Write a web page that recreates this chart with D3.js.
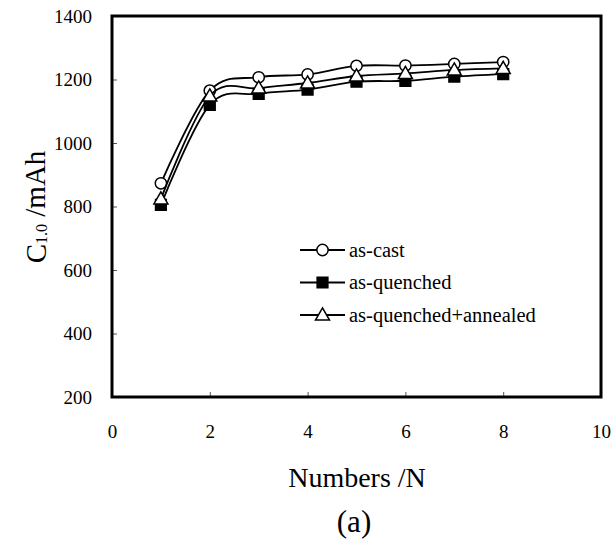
<!DOCTYPE html>
<html><head><meta charset="utf-8">
<script src="https://cdn.jsdelivr.net/npm/d3@7"></script>
<style>body{margin:0;background:#fff}svg{display:block}</style>
</head><body><svg id="c" width="613" height="542"></svg>
<script>
const cycles = [1,2,3,4,5,6,7,8];
const asCast = [873,1165,1207,1216,1243,1244,1249,1255];
const asQuenched = [805,1120,1155,1168,1193,1196,1209,1217];
const asQuenchedAnnealed = [824,1148,1173,1189,1211,1219,1230,1235];
const seriesNames = ["as-cast","as-quenched","as-quenched+annealed"];
const xTicks = [0,2,4,6,8,10];
const yTicks = [200,400,600,800,1000,1200,1400];

const FONT = "'Liberation Serif', Tinos, 'Times New Roman', 'DejaVu Serif', serif";
const svg = d3.select("#c");
const L=112, R=601, T=16, B=397;
const x = d3.scaleLinear().domain([0,10]).range([L,R]);
const y = d3.scaleLinear().domain([200,1400]).range([B,T]);

const gx = svg.append("g").attr("transform",`translate(0,${B})`)
  .call(d3.axisBottom(x).tickValues(xTicks).tickSize(-5).tickPadding(28).tickFormat(d3.format("d")));
gx.select(".domain").remove();
gx.selectAll("line").attr("stroke","#555").attr("stroke-width",1);
gx.selectAll("text").style("font-family",FONT).style("font-size","19px").attr("fill","#000");
const gy = svg.append("g").attr("transform",`translate(${L},0)`)
  .call(d3.axisLeft(y).tickValues(yTicks).tickSize(-5).tickPadding(20).tickFormat(d3.format("d")));
gy.select(".domain").remove();
gy.selectAll("line").attr("stroke","#555").attr("stroke-width",1);
gy.selectAll("text").style("font-family",FONT).style("font-size","19px").attr("fill","#000");

svg.append("rect").attr("x",L).attr("y",T).attr("width",R-L).attr("height",B-T)
  .attr("fill","none").attr("stroke","#000").attr("stroke-width",3);

const line = d3.line().x((d,i)=>x(cycles[i])).y(d=>y(d)).curve(d3.curveCatmullRom.alpha(0));
const data = [asCast, asQuenched, asQuenchedAnnealed];
const sym = [d3.symbolCircle, d3.symbolSquare, d3.symbolTriangle];
const sizes = [100, 115, 85];
const fills = ["#fff","#000","#fff"];
data.forEach((vals,k)=>{
  svg.append("path").attr("d",line(vals)).attr("fill","none").attr("stroke","#000").attr("stroke-width",1.8);
  svg.selectAll(null).data(vals).enter().append("path")
    .attr("transform",(d,i)=>`translate(${x(cycles[i])},${y(d)+(k==2?1:0)})`)
    .attr("d",d3.symbol().type(sym[k]).size(sizes[k]))
    .attr("fill",fills[k]).attr("stroke","#000").attr("stroke-width",1.5);
});

const lg = svg.append("g");
seriesNames.forEach((n,k)=>{
  const yy = 250 + k*32.5;
  lg.append("line").attr("x1",300).attr("x2",345).attr("y1",yy).attr("y2",yy).attr("stroke","#000").attr("stroke-width",1.8);
  lg.append("path").attr("transform",`translate(322.5,${yy+(k==2?1:0)})`)
    .attr("d",d3.symbol().type(sym[k]).size(sizes[k]))
    .attr("fill",fills[k]).attr("stroke","#000").attr("stroke-width",1.5);
  lg.append("text").attr("x",349).attr("y",yy).attr("dy","0.33em")
    .style("font-family",FONT).style("font-size","20.5px").text(n);
});

svg.append("text").attr("x",357).attr("y",487).attr("text-anchor","middle")
  .style("font-family",FONT).style("font-size","28px").text("Numbers /N");
svg.append("text").attr("x",354).attr("y",532).attr("text-anchor","middle")
  .style("font-family",FONT).style("font-size","31px").text("(a)");

const yl = svg.append("text").attr("transform","translate(46,207) rotate(-90)").attr("text-anchor","middle")
  .style("font-family",FONT).style("font-size","29px");
yl.append("tspan").text("C");
yl.append("tspan").style("font-size","16px").attr("dy","0.05em").text("1.0");
yl.append("tspan").attr("dy","-0.05em").text(" /mAh");
</script></body></html>
